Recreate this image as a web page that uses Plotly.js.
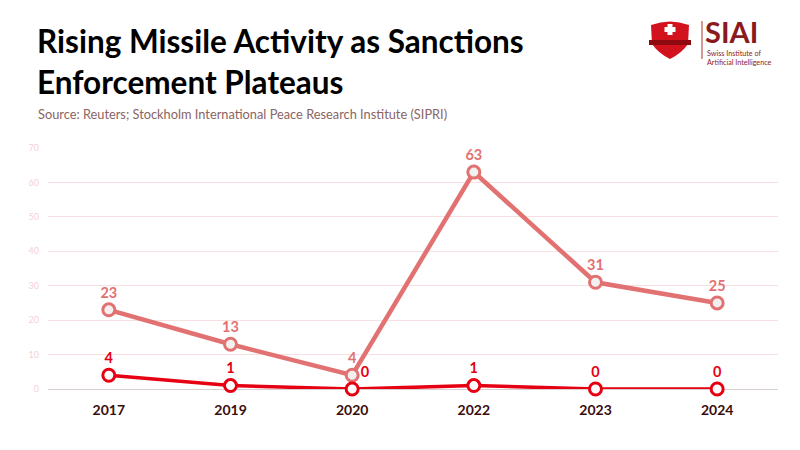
<!DOCTYPE html>
<html><head><meta charset="utf-8">
<script src="https://cdn.plot.ly/plotly-3.0.1.min.js"></script>
<style>html,body{margin:0;padding:0;background:#fff}#c{width:800px;height:450px}</style>
</head><body><div id="c"></div>
<script>
var years = ['2017','2019','2020','2022','2023','2024'];
var seriesA = [23, 13, 4, 63, 31, 25];
var seriesB = [4, 1, 0, 1, 0, 0];
var yTicks = [0,10,20,30,40,50,60,70];

var L = 48, R = 778, T = 148, B = 389;
function px(x){ return (x - L) / (R - L); }
function py(y){ return (B - y) / (B - T); }

var F = '"Source Sans Pro", Lato, "Noto Sans", sans-serif';
var colA = '#e27272', colB = '#e60012';

var traceA = {
  x: years, y: seriesA, type: 'scatter', mode: 'lines+markers+text',
  text: seriesA.map(String), textposition: 'top center',
  textfont: {family: F, size: 14.5, color: colA, weight: 700},
  line: {color: colA, width: 4.5},
  marker: {symbol: 'circle', size: 12, color: '#f4f0f0', line: {color: colA, width: 3}},
  cliponaxis: false, hoverinfo: 'none'
};
var traceB = {
  x: years, y: seriesB, type: 'scatter', mode: 'lines+markers+text',
  text: seriesB.map(String), textposition: ['top center','top center','top right','top center','top center','top center'],
  textfont: {family: F, size: 14.5, color: colB, weight: 700},
  line: {color: colB, width: 3.5},
  marker: {symbol: 'circle', size: 12, color: '#ffffff', line: {color: colB, width: 3}},
  cliponaxis: false, hoverinfo: 'none'
};

var shieldPath = 'M ' + px(651) + ',' + py(25) + ' Q ' + px(670) + ',' + py(18) + ' ' + px(689) + ',' + py(25) +
  ' L ' + px(688) + ',' + py(44) + ' Q ' + px(682) + ',' + py(53) + ' ' + px(670) + ',' + py(59) +
  ' Q ' + px(658) + ',' + py(53) + ' ' + px(652) + ',' + py(44) + ' Z';

var layout = {
  width: 800, height: 450,
  paper_bgcolor: '#ffffff', plot_bgcolor: '#ffffff',
  margin: {l: L, r: 800 - R, t: T, b: 450 - B},
  showlegend: false,
  font: {family: F},
  xaxis: {
    type: 'category', range: [-0.5, 5.5], showgrid: false, zeroline: false, showline: false,
    ticks: '', tickfont: {family: F, size: 14, color: '#3a0d0d', weight: 700},
    ticklabelstandoff: 11
  },
  yaxis: {
    range: [0, 70], tickvals: yTicks, ticktext: yTicks.map(String),
    showgrid: true, gridcolor: '#f8e0e2', gridwidth: 1,
    zeroline: true, zerolinecolor: '#d8d0d0', zerolinewidth: 1,
    tickfont: {family: F, size: 9, color: '#f4d2d4'}, ticks: '', ticklabelstandoff: 8
  },
  shapes: [
    {type: 'path', xref: 'paper', yref: 'paper', path: shieldPath, fillcolor: '#d2121c', line: {width: 0}},
    {type: 'rect', xref: 'paper', yref: 'paper', x0: px(667.5), x1: px(672.5), y0: py(35), y1: py(24), fillcolor: '#fff', line: {width: 0}},
    {type: 'rect', xref: 'paper', yref: 'paper', x0: px(664.5), x1: px(675.5), y0: py(32), y1: py(27), fillcolor: '#fff', line: {width: 0}},
    {type: 'rect', xref: 'paper', yref: 'paper', x0: px(649), x1: px(691), y0: py(45), y1: py(40), fillcolor: '#8e0a10', line: {width: 0}},
    {type: 'line', xref: 'paper', yref: 'paper', x0: px(702), x1: px(702), y0: py(21), y1: py(59), line: {color: '#b03030', width: 1}}
  ],
  annotations: [
    {xref: 'paper', yref: 'paper', x: px(35), y: py(20), xanchor: 'left', yanchor: 'top', showarrow: false,
     align: 'left', text: '<b>Rising Missile Activity as Sanctions<br>Enforcement Plateaus</b>',
     font: {family: F, size: 31.5, color: '#000000'}},
    {xref: 'paper', yref: 'paper', x: px(36), y: py(114), xanchor: 'left', yanchor: 'middle', showarrow: false,
     text: 'Source: Reuters; Stockholm International Peace Research Institute (SIPRI)',
     font: {family: F, size: 12.8, color: '#8a6464'}},
    {xref: 'paper', yref: 'paper', x: px(704), y: py(32), xanchor: 'left', yanchor: 'middle', showarrow: false,
     borderpad: 0, text: '<b>SIAI</b>', font: {family: F, size: 29, color: '#8b1a1f'}},
    {xref: 'paper', yref: 'paper', x: px(706), y: py(48), xanchor: 'left', yanchor: 'top', showarrow: false,
     borderpad: 0, align: 'left', text: 'Swiss Institute of<br>Artificial Intelligence', font: {family: F, size: 7.2, color: '#8b1a1f'}}
  ]
};

Plotly.newPlot('c', [traceA, traceB], layout, {staticPlot: true, displayModeBar: false});
</script></body></html>
